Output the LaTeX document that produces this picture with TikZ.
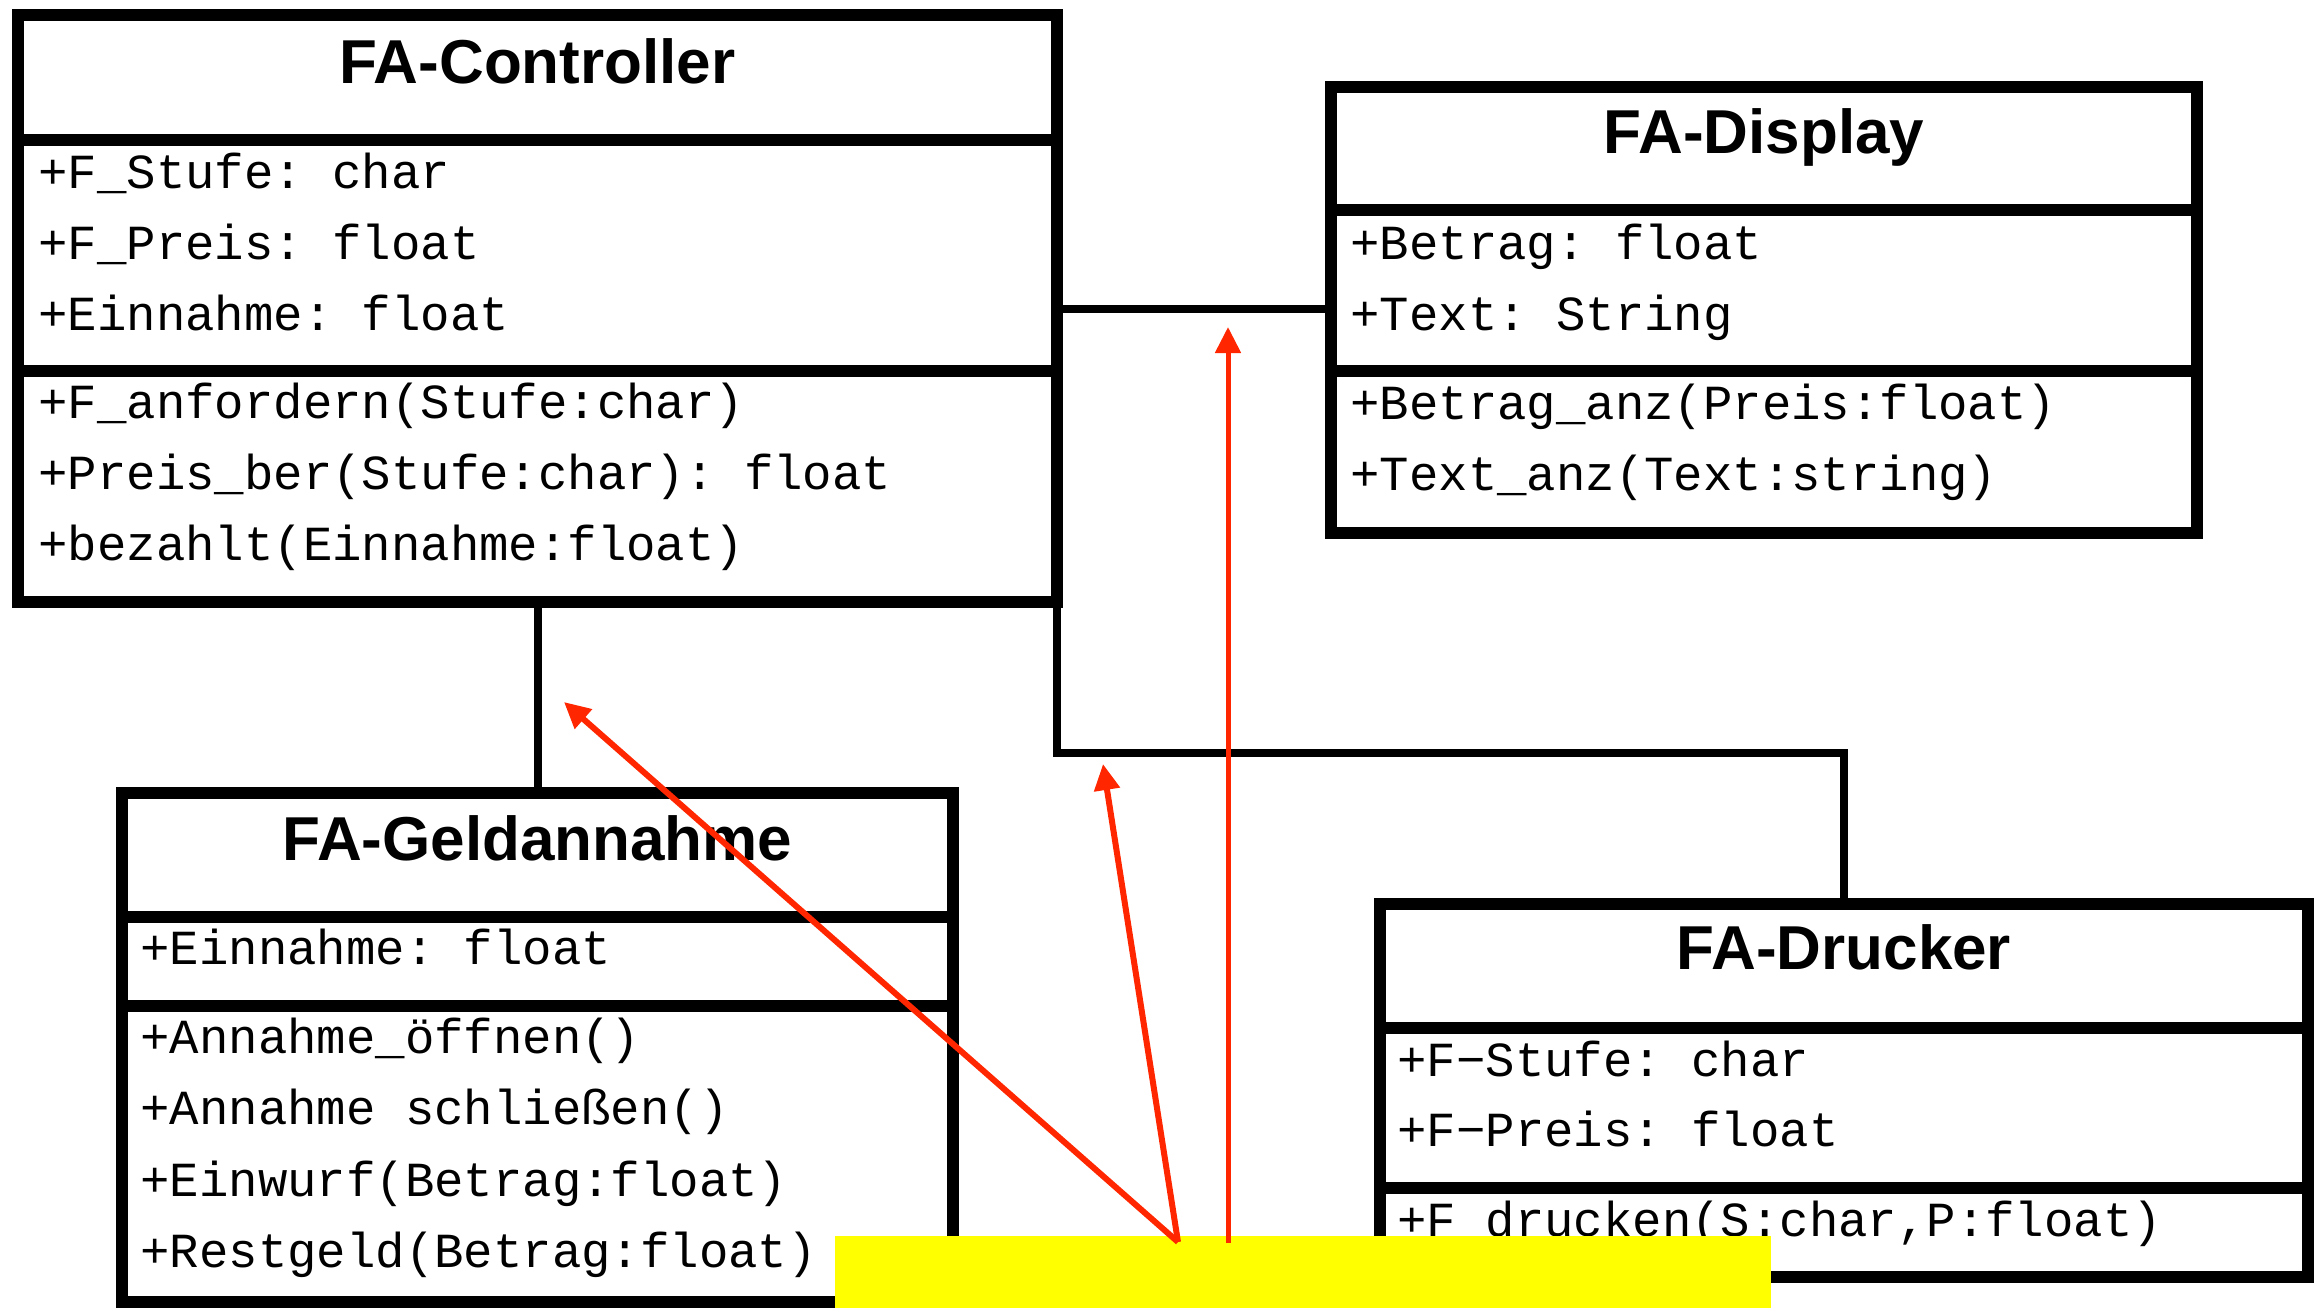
\documentclass[tikz,border=0pt]{standalone}
\usepackage{fontspec}
\setmainfont{Liberation Sans}
\newfontfamily\monofnt{Liberation Mono}
\usetikzlibrary{fit,arrows.meta}
\definecolor{redarrow}{RGB}{255,38,0}
\definecolor{hiyellow}{RGB}{255,255,0}
\frenchspacing
\begin{document}
\begin{tikzpicture}[x=0.5pt,y=-0.5pt,
 classbox/.style={draw=black, fill=white, line width=6.25pt, inner sep=0pt, outer sep=0pt},
 sepline/.style={line width=6.25pt},
 conn/.style={line width=4pt},
 ttl/.style={anchor=base, inner sep=0pt, font=\fontsize{31pt}{31pt}\selectfont\bfseries},
 mem/.style={anchor=base west, inner sep=0pt, font=\monofnt\fontsize{24.5pt}{24.5pt}\selectfont\frenchspacing},
 redarr/.style={draw=redarrow, line width=3pt, -{Triangle[length=13pt,width=12.5pt]}},
 hlbox/.style={fill=hiyellow, inner sep=0pt, outer sep=0pt},
]
\useasboundingbox (0,0) rectangle (2314,1308);
% class boxes
\node[classbox, fit={(18,15)(1057,602)}] (ctrl) {};
\draw[sepline] (18,140) -- (1057,140);
\draw[sepline] (18,371) -- (1057,371);
\node[classbox, fit={(1331,87)(2197,533)}] (disp) {};
\draw[sepline] (1331,210) -- (2197,210);
\draw[sepline] (1331,371) -- (2197,371);
\node[classbox, fit={(122,793)(953,1302)}] (geld) {};
\draw[sepline] (122,917) -- (953,917);
\draw[sepline] (122,1006) -- (953,1006);
\node[classbox, fit={(1380,904)(2308,1277)}] (druck) {};
\draw[sepline] (1380,1028) -- (2308,1028);
\draw[sepline] (1380,1188) -- (2308,1188);
% connectors
\draw[conn] (ctrl.east) -- (ctrl.east -| disp.west);
\draw[conn] (ctrl.south) -- (geld.north);
\draw[conn] (ctrl.south east) -- ++(0,151) -| (druck.north);
% texts
\node[ttl] (ctrlT) at (537.5,83) {FA-Controller};
\node[mem] (c1) at (38,188) {+F\_Stufe: char};
\node[mem] (c2) at (38,259) {+F\_Preis: float};
\node[mem] (c3) at (38,330) {+Einnahme: float};
\node[mem] (c4) at (38,418) {+F\_anfordern(Stufe:char)};
\node[mem] (c5) at (38,489) {+Preis\_ber(Stufe:char): float};
\node[mem] (c6) at (38,560) {+bezahlt(Einnahme:float)};
\node[ttl] (dispT) at (1764,153) {FA-Display};
\node[mem] (d1) at (1350,259) {+Betrag: float};
\node[mem] (d2) at (1350,330) {+Text: String};
\node[mem] (d3) at (1350,419) {+Betrag\_anz(Preis:float)};
\node[mem] (d4) at (1350,490) {+Text\_anz(Text:string)};
\node[ttl] (geldT) at (537.5,860) {FA-Geldannahme};
\node[mem] (g1) at (140,964) {+Einnahme: float};
\node[mem] (g2) at (140,1053) {+Annahme\_öffnen()};
\node[mem] (g3) at (140,1124) {+Annahme schließen()};
\node[mem] (g4) at (140,1196) {+Einwurf(Betrag:float)};
\node[mem] (g5) at (140,1267) {+Restgeld(Betrag:float)};
\node[ttl] (druckT) at (1844,969) {FA-Drucker};
\node[mem] (p1) at (1397,1076) {+F−Stufe: char};
\node[mem] (p2) at (1397,1146) {+F−Preis: float};
\node[mem] (p3) at (1397,1236) {+F\_drucken(S:char,P:float)};
% highlight
\node[hlbox, fit={(835,1236)(1771,1308)}] (hl) {};
% red arrows
\coordinate (src) at (1178,1242);
\coordinate (src3) at (1228,1243);
\coordinate (t1) at (564,702);
\coordinate (t2) at (1103,764);
\coordinate (t3) at (1228,327);
\draw[redarr] (src) -- (t1);
\draw[redarr] (src) -- (t2);
\draw[redarr, line width=2.5pt] (src3) -- (t3);
\end{tikzpicture}
\end{document}
